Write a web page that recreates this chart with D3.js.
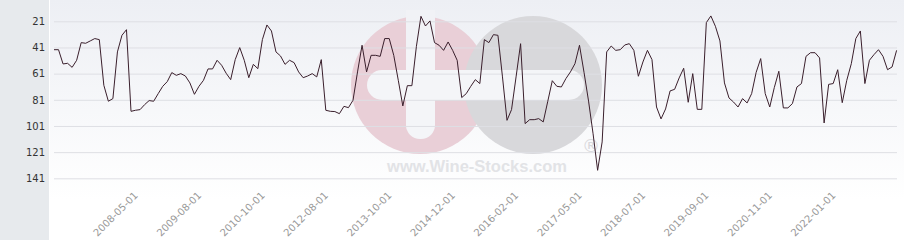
<!DOCTYPE html>
<html>
<head>
<meta charset="utf-8">
<script src="https://cdn.jsdelivr.net/npm/d3@7"></script>
<style>
  html, body { margin: 0; padding: 0; background: #ffffff; }
  svg { display: block; }
</style>
</head>
<body>
<svg id="chart" width="904" height="240"></svg>
<script>
// ---- data ----
const categories = [
  "2006-10-01","2006-11-01","2006-12-01","2007-01-01","2007-02-01","2007-03-01","2007-04-01","2007-05-01","2007-06-01","2007-07-01",
  "2007-08-01","2007-09-01","2007-10-01","2007-11-01","2007-12-01","2008-01-01","2008-02-01","2008-03-01","2008-04-01","2008-05-01",
  "2008-06-01","2008-07-01","2008-08-01","2008-09-01","2008-10-01","2008-11-01","2009-01-01","2009-02-01","2009-03-01","2009-04-01",
  "2009-05-01","2009-06-01","2009-07-01","2009-08-01","2009-09-01","2009-10-01","2009-11-01","2009-12-01","2010-01-01","2010-02-01",
  "2010-03-01","2010-04-01","2010-05-01","2010-06-01","2010-07-01","2010-08-01","2010-09-01","2010-10-01","2010-11-01","2010-12-01",
  "2011-01-01","2011-02-01","2011-03-01","2011-05-01","2011-07-01","2011-09-01","2011-11-01","2012-01-01","2012-03-01","2012-05-01",
  "2012-07-01","2012-08-01","2012-09-01","2012-10-01","2012-11-01","2012-12-01","2013-01-01","2013-02-01","2013-03-01","2013-04-01",
  "2013-05-01","2013-06-01","2013-07-01","2013-08-01","2013-09-01","2013-10-01","2013-11-01","2013-12-01","2014-01-01","2014-02-01",
  "2014-03-01","2014-04-01","2014-05-01","2014-06-01","2014-07-01","2014-08-01","2014-09-01","2014-10-01","2014-11-01","2014-12-01",
  "2015-01-01","2015-02-01","2015-03-01","2015-04-01","2015-05-01","2015-06-01","2015-07-01","2015-08-01","2015-09-01","2015-10-01",
  "2015-11-01","2015-12-01","2016-01-01","2016-02-01","2016-03-01","2016-04-01","2016-05-01","2016-06-01","2016-07-01","2016-08-01",
  "2016-09-01","2016-10-01","2016-11-01","2016-12-01","2017-01-01","2017-03-01","2017-04-01","2017-05-01","2017-06-01","2017-07-01",
  "2017-08-01","2017-09-01","2017-10-01","2017-11-01","2017-12-01","2018-01-01","2018-02-01","2018-03-01","2018-04-01","2018-05-01",
  "2018-06-01","2018-07-01","2018-08-01","2018-09-01","2018-10-01","2018-11-01","2018-12-01","2019-01-01","2019-02-01","2019-03-01",
  "2019-04-01","2019-05-01","2019-06-01","2019-07-01","2019-08-01","2019-09-01","2019-10-01","2019-11-01","2019-12-01","2020-01-01",
  "2020-02-01","2020-03-01","2020-04-01","2020-05-01","2020-06-01","2020-07-01","2020-08-01","2020-09-01","2020-10-01","2020-11-01",
  "2020-12-01","2021-01-01","2021-02-01","2021-03-01","2021-04-01","2021-05-01","2021-06-01","2021-07-01","2021-08-01","2021-09-01",
  "2021-10-01","2021-11-01","2021-12-01","2022-01-01","2022-02-01","2022-03-01","2022-04-01","2022-05-01","2022-06-01","2022-07-01",
  "2022-08-01","2022-09-01","2022-10-01","2022-11-01","2022-12-01","2023-01-01","2023-02-01"
];

const rankValues = [
  42.7, 42.7, 53.6, 53.1, 56.2, 50.8, 37.3, 37.8, 36.0, 34.2,
  35.0, 69.9, 82.1, 80.1, 44.4, 31.7, 27.4, 89.8, 89.0, 88.5,
  84.7, 81.6, 82.1, 76.3, 70.7, 67.1, 60.2, 62.3, 61.0, 62.8,
  68.1, 76.8, 70.7, 66.1, 57.4, 57.4, 50.8, 54.6, 60.7, 65.6,
  50.3, 41.1, 50.8, 64.1, 53.9, 57.2, 35.0, 23.8, 28.4, 44.4,
  47.5, 53.9, 50.8, 52.6, 59.7, 64.1, 62.8, 61.0, 63.5, 50.3,
  89.0, 89.8, 90.0, 91.6, 86.0, 87.0, 81.4, 59.7, 39.3, 59.7,
  47.0, 47.0, 47.8, 34.2, 34.2, 47.0, 66.1, 85.7, 70.2, 70.2,
  40.1, 17.2, 24.6, 20.7, 37.3, 39.3, 43.2, 36.8, 43.2, 50.8,
  79.3, 76.3, 70.7, 65.6, 68.6, 35.0, 37.3, 31.2, 31.7, 63.5,
  96.7, 88.5, 63.5, 38.1, 99.2, 96.2, 96.2, 95.4, 97.9, 82.1,
  66.4, 70.7, 71.2, 64.8, 59.7, 53.4, 39.3, 60.0, 82.0, 107.0,
  134.9, 113.2, 44.4, 39.9, 43.2, 42.7, 39.1, 38.1, 43.2, 63.0,
  52.1, 43.2, 50.3, 86.5, 95.6, 88.0, 74.2, 73.0, 64.3, 56.9,
  82.9, 61.0, 88.3, 88.3, 22.0, 16.9, 24.8, 36.0, 68.1, 79.6,
  82.7, 86.5, 80.1, 83.4, 76.3, 60.0, 49.5, 76.3, 86.5, 71.7,
  59.2, 87.2, 87.2, 83.9, 71.2, 68.6, 47.8, 45.0, 45.0, 49.0,
  98.7, 69.2, 68.6, 58.0, 83.2, 66.1, 53.4, 34.2, 28.4, 68.6,
  50.8, 46.5, 42.7, 47.8, 58.0, 55.9, 43.2
];

const yTickValues = [21, 41, 61, 81, 101, 121, 141];
const xTickLabels = [
  "2008-05-01","2009-08-01","2010-10-01","2012-08-01","2013-10-01","2014-12-01",
  "2016-02-01","2017-05-01","2018-07-01","2019-09-01","2020-11-01","2022-01-01"
];
const watermarkText = "www.Wine-Stocks.com";

// ---- drawing ----
const W = 904, H = 240;
const plotLeft = 54, plotRight = 897;
const svg = d3.select("#chart");

const defs = svg.append("defs");
const grad = defs.append("linearGradient").attr("id", "bg").attr("x1", 0).attr("y1", 0).attr("x2", 0).attr("y2", 1);
grad.append("stop").attr("offset", "0%").attr("stop-color", "#edeff4");
grad.append("stop").attr("offset", "100%").attr("stop-color", "#ffffff");

svg.append("rect").attr("x", 0).attr("y", 0).attr("width", W).attr("height", H).attr("fill", "#ffffff");
svg.append("rect").attr("x", 50).attr("y", 0).attr("width", W - 50).attr("height", 200).attr("fill", "url(#bg)");
svg.append("rect").attr("x", 0).attr("y", 0).attr("width", 49).attr("height", H).attr("fill", "#e7eaed");

const x = d3.scalePoint().domain(categories).range([plotLeft, plotRight - 0.4]);
const y = d3.scaleLinear().domain([21, 141]).range([21.3, 178.3]);

// watermark
const wm = svg.append("g").attr("class", "watermark");
wm.append("circle").attr("cx", 420).attr("cy", 85).attr("r", 69).attr("fill", "#e9cfd7");
wm.append("circle").attr("cx", 533).attr("cy", 85).attr("r", 69).attr("fill", "#d8d8db");
wm.append("rect").attr("x", 367).attr("y", 70).attr("width", 217).attr("height", 30).attr("rx", 15).attr("fill", "#f4f5f8");
wm.append("rect").attr("x", 406).attr("y", 14).attr("width", 29).attr("height", 125).attr("rx", 14).attr("fill", "#f4f5f8");
wm.append("rect").attr("x", 406).attr("y", 10).attr("width", 29).attr("height", 40).attr("fill", "#f1f2f6");
wm.append("text").attr("x", 477).attr("y", 172).attr("text-anchor", "middle")
  .attr("font-family", "Liberation Sans, Arial, sans-serif").attr("font-weight", "bold")
  .attr("font-size", 16.5).attr("fill", "#e2e3e6").text(watermarkText);
wm.append("text").attr("x", 591).attr("y", 152).attr("text-anchor", "middle")
  .attr("font-family", "DejaVu Sans, sans-serif").attr("font-size", 18)
  .attr("fill", "#d9d9dc").text("\u00AE");

// y axis with gridlines
const yAxis = d3.axisLeft(y).tickValues(yTickValues).tickSize(-(plotRight - plotLeft)).tickPadding(9);
const gy = svg.append("g").attr("transform", `translate(${plotLeft},0)`).call(yAxis);
gy.select(".domain").remove();
gy.selectAll(".tick line").attr("stroke", "#dedfe4").attr("stroke-width", 1);
gy.selectAll(".tick text").attr("fill", "#333333")
  .attr("font-family", "DejaVu Sans, sans-serif").attr("font-size", 10);

// line
const line = d3.line().x((d, i) => x(categories[i])).y(d => y(d));
svg.append("path").datum(rankValues).attr("d", line)
  .attr("fill", "none").attr("stroke", "#3a1f2c").attr("stroke-width", 1).attr("stroke-linejoin", "round");

// x axis labels
const xAxis = d3.axisBottom(x).tickValues(xTickLabels).tickSize(0).tickPadding(0);
const gx = svg.append("g").attr("transform", "translate(0,0)").call(xAxis);
gx.select(".domain").remove();
gx.selectAll(".tick text")
  .attr("x", 0).attr("y", 0).attr("dy", 0)
  .attr("text-anchor", "end")
  .attr("transform", "translate(-2,196) rotate(-45)")
  .attr("fill", "#999999")
  .attr("font-family", "DejaVu Sans, sans-serif").attr("font-size", 10);
</script>
</body>
</html>
